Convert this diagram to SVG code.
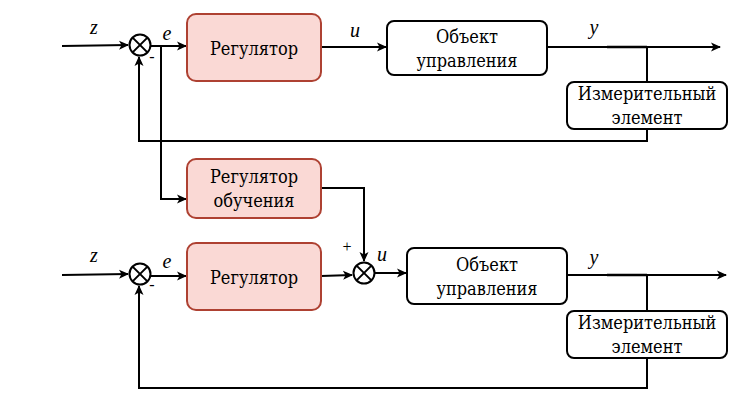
<svg xmlns="http://www.w3.org/2000/svg" width="738" height="400" viewBox="0 0 738 400">
<defs>
<marker id="arr" viewBox="0 0 10 10" refX="9" refY="5" markerWidth="10" markerHeight="10" markerUnits="userSpaceOnUse" orient="auto">
<path d="M0,0.5 L10,5 L0,9.5 L2.5,5 Z" fill="#000"/>
</marker>
</defs>
<style>
.reg{fill:#fad9d5;stroke:#ae4132;stroke-width:2}
.obj{fill:#fff;stroke:#000;stroke-width:2}
.t{font-family:'DejaVu Serif Condensed','DejaVu Serif',serif;font-stretch:condensed;font-size:18px;text-anchor:middle;fill:#000}
.lab{font-family:'Liberation Serif','DejaVu Serif',serif;font-size:20px;font-style:italic;text-anchor:middle;fill:#000}
.sg{font-family:'Liberation Serif','DejaVu Serif',serif;font-size:16px;text-anchor:middle;fill:#000}
.c{fill:none;stroke:#000;stroke-width:2}
.sum{fill:#fff;stroke:#000;stroke-width:2}
</style>
<g id="connectors">
<path class="c" d="M62,46 L128,45" marker-end="url(#arr)"/>
<path class="c" d="M151,46 L186,46" marker-end="url(#arr)"/>
<path class="c" d="M161,46 L161,199 L186,199" marker-end="url(#arr)"/>
<path class="c" d="M321,47 L386,47" marker-end="url(#arr)"/>
<path class="c" d="M547,47 L720,47" marker-end="url(#arr)"/>
<path class="c" d="M607,47 L647,47" style="stroke-width:2.5"/>
<path class="c" d="M647,47 L647,82"/>
<path class="c" d="M647,129 L647,141 L139,141 L139,57" marker-end="url(#arr)"/>
<path class="c" d="M321,188 L364,188 L364,261" marker-end="url(#arr)"/>
<path class="c" d="M62,275 L128,274" marker-end="url(#arr)"/>
<path class="c" d="M151,276 L186,276" marker-end="url(#arr)"/>
<path class="c" d="M321,276 L352,275" marker-end="url(#arr)"/>
<path class="c" d="M375,273 L406,273" marker-end="url(#arr)"/>
<path class="c" d="M567,275 L726,275" marker-end="url(#arr)"/>
<path class="c" d="M607,275 L647,275" style="stroke-width:2.5"/>
<path class="c" d="M647,275 L647,311"/>
<path class="c" d="M647,358 L647,388 L139,388 L139,286" marker-end="url(#arr)"/>
</g>
<g id="labels">
<text class="lab" x="94" y="34">z</text>
<text class="lab" x="167" y="40">e</text>
<text class="sg" x="152" y="62">-</text>
<text class="lab" x="355" y="37">u</text>
<text class="lab" x="594" y="34">y</text>
<text class="sg" x="347" y="252">+</text>
<text class="lab" x="94" y="262">z</text>
<text class="lab" x="167" y="268">e</text>
<text class="sg" x="152" y="290">-</text>
<text class="lab" x="382" y="261">u</text>
<text class="lab" x="594" y="264">y</text>
</g>
<g id="sum1">
<circle class="sum" cx="140" cy="45" r="10.5"/>
<path class="c" d="M132.6,37.6 L147.4,52.4 M147.4,37.6 L132.6,52.4"/>
</g>
<g id="reg1">
<rect class="reg" x="187" y="14" width="134" height="67" rx="9"/>
<text class="t" x="254" y="55">Регулятор</text>
</g>
<g id="obj1">
<rect class="obj" x="387" y="21" width="160" height="54" rx="7"/>
<text class="t" x="467" y="43">Объект</text>
<text class="t" x="467" y="67">управления</text>
</g>
<g id="meas1">
<rect class="obj" x="567" y="82" width="160" height="47" rx="7"/>
<text class="t" x="647" y="100">Измерительный</text>
<text class="t" x="647" y="124">элемент</text>
</g>
<g id="learn">
<rect class="reg" x="187" y="159" width="134" height="59" rx="9"/>
<text class="t" x="254" y="183">Регулятор</text>
<text class="t" x="254" y="207">обучения</text>
</g>
<g id="sum2">
<circle class="sum" cx="140" cy="274" r="10.5"/>
<path class="c" d="M132.6,266.6 L147.4,281.4 M147.4,266.6 L132.6,281.4"/>
</g>
<g id="reg2">
<rect class="reg" x="187" y="243" width="134" height="67" rx="9"/>
<text class="t" x="254" y="284">Регулятор</text>
</g>
<g id="sum3">
<circle class="sum" cx="364" cy="273" r="10.5"/>
<path class="c" d="M356.6,265.6 L371.4,280.4 M371.4,265.6 L356.6,280.4"/>
</g>
<g id="obj2">
<rect class="obj" x="407" y="248" width="160" height="56" rx="7"/>
<text class="t" x="487" y="271">Объект</text>
<text class="t" x="487" y="295">управления</text>
</g>
<g id="meas2">
<rect class="obj" x="567" y="311" width="160" height="47" rx="7"/>
<text class="t" x="647" y="329">Измерительный</text>
<text class="t" x="647" y="353">элемент</text>
</g>
</svg>
